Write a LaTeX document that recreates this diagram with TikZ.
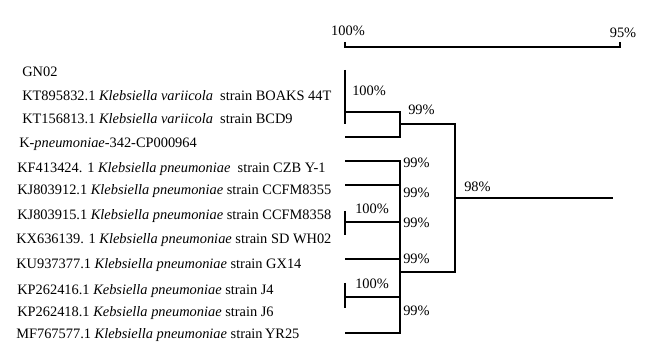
\documentclass[tikz,border=0pt]{standalone}
\usepackage{fontspec}
\setmainfont{Liberation Serif}
\tikzset{
  leaf/.style={anchor=base west, inner sep=0pt},
  pct/.style={anchor=base west, inner sep=0pt},
  branch/.style={line width=1.1pt},
}
\begin{document}
\begin{tikzpicture}[x=0.75pt,y=-0.75pt,font=\fontsize{10.8pt}{12pt}\selectfont]
      \useasboundingbox (0,0) rectangle (647,359);
      % scale bar
      \coordinate (sl) at (345,42);
      \coordinate (sr) at (620,42);
      \draw[branch] (sl) -- ++(0,5) -| (sr);
      \node[anchor=base, inner sep=0pt] (s100) at (348,36) {100\%};
      \node[anchor=base, inner sep=0pt] (s95) at (623,38) {95\%};
      % strains
      \node[leaf] (gn02) at (22,77) {GN02};
      \node[leaf] (kt895832) at (22,101) {KT895832.1 \textit{Klebsiella variicola}\ \ strain BOAKS 44T};
      \node[leaf] (kt156813) at (22,124) {KT156813.1 \textit{Klebsiella variicola}\ \ strain BCD9};
      \node[leaf] (kpn342) at (19,148) {K-\textit{pneumoniae}-342-CP000964};
      \node[leaf] (kf413424) at (17,173) {KF413424. 1 \textit{Klebsiella pneumoniae}\ \ strain CZB Y-1};
      \node[leaf] (kj803912) at (17,195) {KJ803912.1 \textit{Klebsiella pneumoniae} strain CCFM8355};
      \node[leaf] (kj803915) at (17,220) {KJ803915.1 \textit{Klebsiella pneumoniae} strain CCFM8358};
      \node[leaf] (kx636139) at (16,244) {KX636139. 1 \textit{Klebsiella pneumoniae} strain SD WH02};
      \node[leaf] (ku937377) at (16,269) {KU937377.1 \textit{Klebsiella pneumoniae} strain GX14};
      \node[leaf] (kp262416) at (17,295) {KP262416.1 \textit{Kebsiella pneumoniae} strain J4};
      \node[leaf] (kp262418) at (17,317) {KP262418.1 \textit{Kebsiella pneumoniae} strain J6};
      \node[leaf] (mf767577) at (16,339) {MF767577.1 \textit{Klebsiella pneumoniae} strain\,YR25};
      % tree
      \coordinate (a1) at (345,70);
      \coordinate (a2) at (345,124);
      \coordinate (a3) at (345,112);
      \coordinate (a4) at (345,137);
      \coordinate (p1) at (400,124);
      \coordinate (root) at (455,198);
      \coordinate (rootend) at (613,198);
      \coordinate (p2) at (400,272);
      \coordinate (b1) at (345,161);
      \coordinate (b2) at (345,185);
      \coordinate (b3) at (345,222);
      \coordinate (b4) at (345,259);
      \coordinate (b5) at (345,297);
      \coordinate (b6) at (345,333);
      \draw[branch] (a1) -- (a2);
      \draw[branch] (a3) -| (p1) |- (a4);
      \draw[branch] (p1) -| (root) |- (p2);
      \draw[branch] (root) -- (rootend);
      \draw[branch] (b1) -| (p2) |- (b6);
      \draw[branch] (b2) -- (b2 -| p2);
      \draw[branch] (b3) -- (b3 -| p2);
      \draw[branch] (b4) -- (b4 -| p2);
      \draw[branch] (b5) -- (b5 -| p2);
      \draw[branch] (345,211) -- (345,235);
      \draw[branch] (345,283) -- (345,308);
      % bootstrap values
      \node[pct] (v1) at (352,96) {100\%};
      \node[pct] (v2) at (408,115) {99\%};
      \node[pct] (v3) at (464,192) {98\%};
      \node[pct] (v4) at (403,168) {99\%};
      \node[pct] (v5) at (403,198) {99\%};
      \node[pct] (v6) at (403,228) {99\%};
      \node[pct] (v7) at (403,264) {99\%};
      \node[pct] (v8) at (403,316) {99\%};
      \node[pct] (v9) at (355,214) {100\%};
      \node[pct] (v10) at (355,289) {100\%};
\end{tikzpicture}
\end{document}
